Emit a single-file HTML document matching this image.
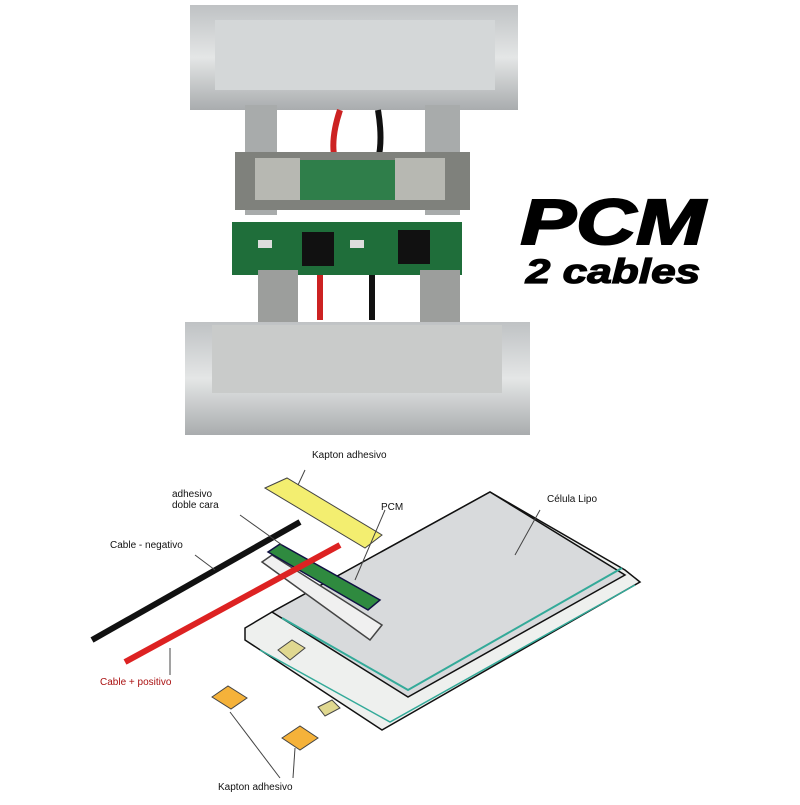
<!DOCTYPE html>
<html><head><style>
body{margin:0;background:#fff;width:800px;height:800px;overflow:hidden;font-family:"Liberation Sans",sans-serif}
</style></head><body>
<svg width="800" height="800" viewBox="0 0 800 800" xmlns="http://www.w3.org/2000/svg">
<defs>
<linearGradient id="sil" x1="0" y1="0" x2="0" y2="1"><stop offset="0" stop-color="#bfc2c4"/><stop offset="0.5" stop-color="#e4e6e6"/><stop offset="1" stop-color="#a9acae"/></linearGradient>
</defs>
<rect x="190" y="5" width="328" height="105" fill="url(#sil)"/>
<rect x="215" y="20" width="280" height="70" fill="#d4d7d8"/>
<rect x="245" y="105" width="32" height="110" fill="#a8abab"/>
<rect x="425" y="105" width="35" height="110" fill="#a8abab"/>
<path d="M340 110 q-10 30 -5 50" stroke="#c22" stroke-width="6" fill="none"/>
<path d="M378 110 q5 30 0 50" stroke="#111" stroke-width="6" fill="none"/>
<rect x="235" y="152" width="235" height="58" fill="#7f817c"/>
<rect x="255" y="158" width="45" height="42" fill="#b7b8b2"/>
<rect x="395" y="158" width="50" height="42" fill="#b7b8b2"/>
<rect x="300" y="160" width="95" height="40" fill="#2f7e4a"/>
<rect x="232" y="222" width="230" height="53" fill="#1f6e3a"/>
<rect x="302" y="232" width="32" height="34" fill="#111"/>
<rect x="398" y="230" width="32" height="34" fill="#111"/>
<rect x="258" y="240" width="14" height="8" fill="#ddd"/>
<rect x="350" y="240" width="14" height="8" fill="#ddd"/>
<rect x="258" y="270" width="40" height="55" fill="#9c9e9c"/>
<rect x="420" y="270" width="40" height="55" fill="#9c9e9c"/>
<path d="M320 275 v45" stroke="#c22" stroke-width="6"/>
<path d="M372 275 v45" stroke="#111" stroke-width="6"/>
<rect x="185" y="322" width="345" height="113" fill="url(#sil)"/>
<rect x="212" y="325" width="290" height="68" fill="#c9cbca"/>
<g transform="translate(613,0) scale(1.3,1)">
<text x="0" y="244" text-anchor="middle" font-size="64" font-weight="bold" font-style="italic" fill="#000" stroke="#000" stroke-width="2">PCM</text>
<text x="0" y="283" text-anchor="middle" font-size="34" font-weight="bold" font-style="italic" fill="#000" stroke="#000" stroke-width="1.2">2 cables</text>
</g>
<polygon points="245,640 382,730 640,582 625,570 490,492 272,612 245,628" fill="#eef0ee" stroke="#111" stroke-width="1.5"/>
<polygon points="272,612 490,492 625,575 408,697" fill="#d8dadc" stroke="#111" stroke-width="1.5"/>
<polyline points="282,618 408,690 622,568" fill="none" stroke="#3a9" stroke-width="2"/>
<polyline points="260,650 390,722 635,585" fill="none" stroke="#3a9" stroke-width="1.5"/>
<polygon points="265,488 287,478 382,535 365,548" fill="#f3ee70" stroke="#444"/>
<polygon points="262,562 272,555 382,625 370,640" fill="#f0f0f0" stroke="#444" stroke-width="1.5"/>
<polygon points="268,552 280,544 380,600 368,610" fill="#2f8a3f" stroke="#114" stroke-width="1.5"/>
<line x1="92" y1="640" x2="300" y2="522" stroke="#111" stroke-width="6"/>
<line x1="125" y1="662" x2="340" y2="545" stroke="#d22" stroke-width="6"/>
<polygon points="212,697 228,686 247,698 231,709" fill="#f5b23a" stroke="#444"/>
<polygon points="282,738 300,726 318,738 300,750" fill="#f5b23a" stroke="#444"/>
<polygon points="278,650 292,640 305,648 290,660" fill="#e0d890" stroke="#444"/>
<polygon points="318,707 332,700 340,708 325,716" fill="#e0d890" stroke="#444"/>
<g stroke="#444" stroke-width="1" fill="none">
<line x1="305" y1="470" x2="298" y2="485"/><line x1="385" y1="510" x2="355" y2="580"/>
<line x1="540" y1="510" x2="515" y2="555"/><line x1="240" y1="515" x2="282" y2="545"/>
<line x1="195" y1="555" x2="215" y2="570"/><line x1="170" y1="648" x2="170" y2="675"/>
<line x1="230" y1="712" x2="280" y2="778"/><line x1="295" y1="748" x2="293" y2="778"/>
</g>
<g font-size="10" fill="#111">
<text x="312" y="458">Kapton adhesivo</text>
<text x="172" y="497">adhesivo</text><text x="172" y="508">doble cara</text>
<text x="381" y="510">PCM</text>
<text x="547" y="502">Célula Lipo</text>
<text x="110" y="548">Cable - negativo</text>
<text x="100" y="685" fill="#a11">Cable + positivo</text>
<text x="218" y="790">Kapton adhesivo</text>
</g>
</svg>
</body></html>
